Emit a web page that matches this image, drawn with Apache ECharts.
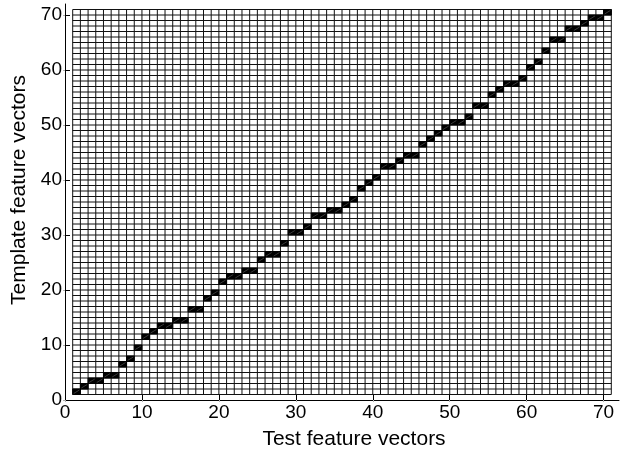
<!DOCTYPE html>
<html>
<head>
<meta charset="utf-8">
<script src="https://cdn.jsdelivr.net/npm/echarts@6/dist/echarts.min.js"></script>
<style>
  html, body { margin: 0; padding: 0; background: #fff; }
  #chart { width: 627px; height: 455px; }
</style>
</head>
<body>
<div id="chart"></div>
<script>
// warping path: test frame index (x) -> matched template frame index (y)
const testFrames = [
  1, 2, 3, 4, 5, 6, 7, 8, 9, 10, 11, 12, 13, 14, 15, 16, 17, 18, 19, 20,
  21, 22, 23, 24, 25, 26, 27, 28, 29, 30, 31, 32, 33, 34, 35, 36, 37, 38, 39, 40,
  41, 42, 43, 44, 45, 46, 47, 48, 49, 50, 51, 52, 53, 54, 55, 56, 57, 58, 59, 60,
  61, 62, 63, 64, 65, 66, 67, 68, 69, 70
]
const templateFrames = [
  1, 2, 3, 3, 4, 4, 6, 7, 9, 11, 12, 13, 13, 14, 14, 16, 16, 18, 19, 21,
  22, 22, 23, 23, 25, 26, 26, 28, 30, 30, 31, 33, 33, 34, 34, 35, 36, 38, 39, 40,
  42, 42, 43, 44, 44, 46, 47, 48, 49, 50, 50, 51, 53, 53, 55, 56, 57, 57, 58, 60,
  61, 63, 65, 65, 67, 67, 68, 69, 69, 70
]

// cell boundaries of the cost grid (same for both axes)
const cellEdges = [
  1, 2, 3, 4, 5, 6, 7, 8, 9, 10, 11, 12, 13, 14, 15, 16, 17, 18, 19, 20,
  21, 22, 23, 24, 25, 26, 27, 28, 29, 30, 31, 32, 33, 34, 35, 36, 37, 38, 39, 40,
  41, 42, 43, 44, 45, 46, 47, 48, 49, 50, 51, 52, 53, 54, 55, 56, 57, 58, 59, 60,
  61, 62, 63, 64, 65, 66, 67, 68, 69, 70, 71
]

const tickValues = [0, 10, 20, 30, 40, 50, 60, 70]

const FONT = '"Liberation Sans", Arial, sans-serif'
const gridFrom = cellEdges[0]
const gridTo = cellEdges[cellEdges.length - 1]

const chart = echarts.init(document.getElementById('chart'), null, { renderer: 'canvas' })

const mainAxis = (name, nameGap) => ({
  type: 'value',
  min: 0,
  max: 72,
  name: name,
  nameLocation: 'middle',
  nameGap: nameGap,
  nameTextStyle: {
    color: '#000',
    fontSize: 21,
    fontFamily: FONT,
    // title sits a little off the axis centre in the original
    padding: [0, 0, 0, 24],
  },
  axisLine: { show: true, lineStyle: { color: '#000', width: 1 } },
  axisTick: {
    show: true,
    inside: true,
    length: 5,
    customValues: tickValues,
    lineStyle: { color: '#000' },
  },
  axisLabel: {
    color: '#000',
    fontSize: 19,
    fontFamily: FONT,
    margin: 3,
    customValues: tickValues,
  },
  splitLine: { show: false },
})

// faint box ticks on top / right, no box line
const boxAxis = (position) => ({
  type: 'value',
  min: 0,
  max: 72,
  position: position,
  axisLine: { show: false },
  axisTick: {
    show: true,
    inside: true,
    length: 2,
    customValues: tickValues,
    lineStyle: { color: '#b0b0b0' },
  },
  axisLabel: { show: false },
  splitLine: { show: false },
})

chart.setOption({
  backgroundColor: '#fff',
  animation: false,
  grid: { left: 65, right: 8, top: 4, bottom: 55 },
  xAxis: [mainAxis('Test feature vectors', 29), boxAxis('top')],
  yAxis: [mainAxis('Template feature vectors', 28), boxAxis('right')],
  series: [
    // grid lines of the cost matrix
    {
      type: 'custom',
      data: cellEdges.map((e) => [e]),
      renderItem: (params, api) => {
        const v = api.value(0)
        const a = api.coord([v, gridFrom])
        const b = api.coord([v, gridTo])
        const c = api.coord([gridFrom, v])
        const d = api.coord([gridTo, v])
        const style = { stroke: '#111', lineWidth: 1 }
        return {
          type: 'group',
          children: [
            { type: 'line', shape: { x1: a[0], y1: a[1], x2: b[0], y2: b[1] }, style },
            { type: 'line', shape: { x1: c[0], y1: c[1], x2: d[0], y2: d[1] }, style },
          ],
        }
      },
      z: 1,
    },
    // warping path cells
    {
      type: 'custom',
      data: testFrames.map((x, i) => [x, templateFrames[i]]),
      renderItem: (params, api) => {
        const x = api.value(0)
        const y = api.value(1)
        const p0 = api.coord([x, y + 1])
        const p1 = api.coord([x + 1, y])
        return {
          type: 'group',
          children: [
            {
              type: 'rect',
              shape: { x: p0[0], y: p0[1], width: p1[0] - p0[0], height: p1[1] - p0[1] },
              style: { fill: '#000', stroke: '#000', lineWidth: 1 },
            },
            {
              type: 'line',
              shape: { x1: p0[0] + 1, y1: p1[1] - 1, x2: p1[0] - 1, y2: p0[1] + 1 },
              style: { stroke: '#3a3a3a', lineWidth: 1 },
            },
          ],
        }
      },
      z: 2,
    },
  ],
})
</script>
</body>
</html>
